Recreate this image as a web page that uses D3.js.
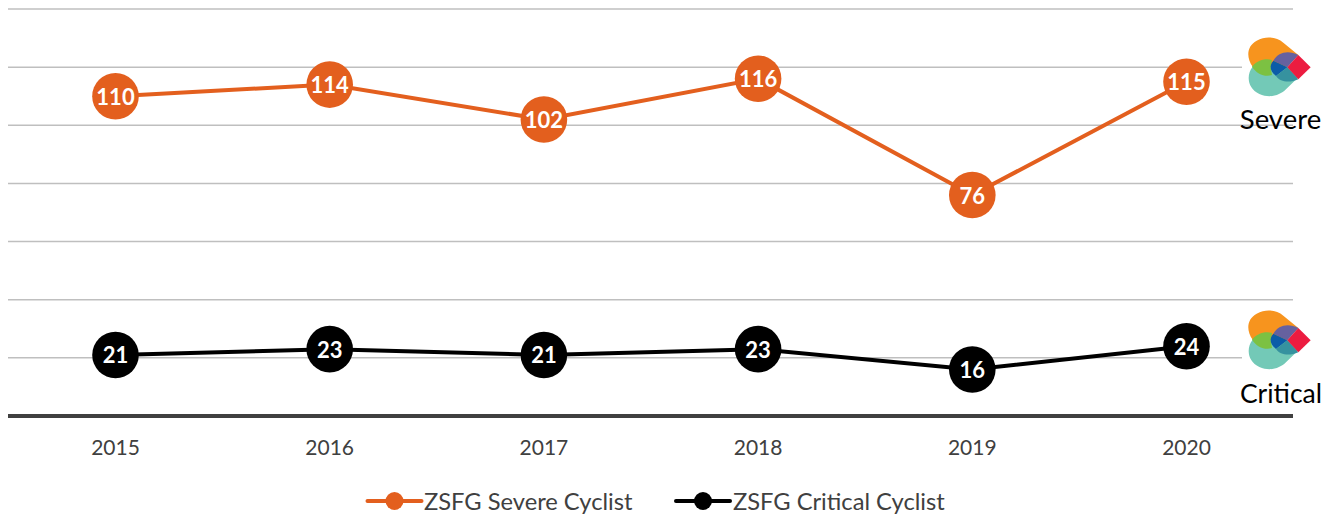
<!DOCTYPE html>
<html><head><meta charset="utf-8">
<script src="https://cdn.jsdelivr.net/npm/d3@7/dist/d3.min.js"></script>
<style>html,body{margin:0;padding:0;background:#fff}svg{display:block}text{font-family:Lato,"Open Sans",sans-serif}</style>
</head><body><svg id="c" width="1338" height="516"></svg>
<script>
const years = ["2015","2016","2017","2018","2019","2020"];
const severe = [110,114,102,116,76,115];
const critical = [21,23,21,23,16,24];
const gridValues = [0,20,40,60,80,100,120,140];
const seriesNames = ["ZSFG Severe Cyclist","ZSFG Critical Cyclist"];
const seriesColors = ["#E35F1E","#000000"];
const sideLabels = ["Severe","Critical"];

const svg = d3.select("#c");
const x = d3.scalePoint().domain(years).range([115.5,1186.5]);
const y = d3.scaleLinear().domain([0,140]).range([416,9]);

svg.append("g").selectAll("line").data(gridValues.slice(1)).join("line")
  .attr("x1",8).attr("x2",1293).attr("y1",d=>y(d)).attr("y2",d=>y(d))
  .attr("stroke","#bfbfbf").attr("stroke-width",1.5);
svg.append("line").attr("x1",8).attr("x2",1293).attr("y1",y(0)).attr("y2",y(0))
  .attr("stroke","#404040").attr("stroke-width",4);

svg.append("g").selectAll("text").data(years).join("text")
  .attr("x",d=>x(d)).attr("y",455).attr("text-anchor","middle")
  .attr("font-size",21).attr("fill","#404040").text(d=>d);

function logo(tx,ty){
  const g = svg.append("g").attr("transform",`translate(${tx},${ty}) scale(0.3333)`);
  g.append("rect").attr("x",36).attr("y",40).attr("width",215).attr("height",196).attr("fill","#fff");
  const p = (d,f)=>g.append("path").attr("d",d).attr("fill",f);
  p("M68,140C48,165 52,205 88,222C120,236 150,226 168,208L205,172L172,140L125,125Z","#73C9B7");
  p("M68,140C48,112 50,78 80,62C110,46 140,52 160,68L205,105L172,140L125,140Z","#F7941E");
  p("M66,140C80,122 105,114 126,120L122,142L126,165C105,172 80,162 66,140Z","#7CC142");
  p("M130,122C145,96 175,90 205,105L172,142Z","#66619F");
  p("M130,122C118,135 118,152 138,168L172,142Z","#0B5CA8");
  p("M138,168C150,186 178,190 205,178L172,142Z","#36929F");
  p("M205,105L242,142L205,178L172,142Z","#EC1C40");
}
logo(1230,20);
logo(1230,293);

svg.append("g").selectAll("text").data(sideLabels).join("text")
  .attr("x",(d,i)=>i?1281:1280.5).attr("y",(d,i)=>i?403:129).attr("text-anchor","middle")
  .attr("font-size",(d,i)=>i?26.5:27.5).attr("fill","#000").text(d=>d);

[severe,critical].forEach((vals,i)=>{
  const c = seriesColors[i];
  const line = d3.line().x((d,j)=>x(years[j])).y(d=>y(d));
  svg.append("path").attr("d",line(vals)).attr("fill","none").attr("stroke",c).attr("stroke-width",4);
  const g = svg.append("g").selectAll("g").data(vals).join("g")
    .attr("transform",(d,j)=>`translate(${x(years[j])},${y(d)})`);
  g.append("circle").attr("r",23.3).attr("fill",c);
  g.append("text").attr("y",8.5).attr("text-anchor","middle").attr("font-size",22)
    .attr("font-weight",700).attr("fill","#fff").text(d=>d);
});

const lg = svg.append("g").selectAll("g").data(seriesNames).join("g")
  .attr("transform",(d,i)=>`translate(${i?676:367.5},501)`);
lg.append("line").attr("x1",0).attr("x2",54).attr("stroke",(d,i)=>seriesColors[i]).attr("stroke-width",4).attr("stroke-linecap","round");
lg.append("circle").attr("cx",27).attr("r",9).attr("fill",(d,i)=>seriesColors[i]);
lg.append("text").attr("x",(d,i)=>i?57:56.5).attr("y",8.5).attr("font-size",23.7).attr("fill","#404040").text(d=>d);
</script></body></html>
